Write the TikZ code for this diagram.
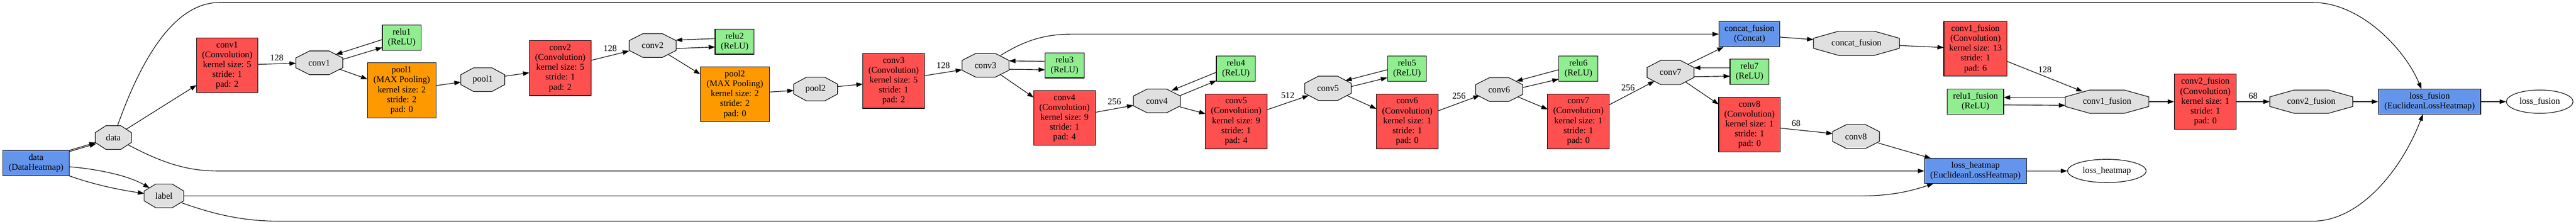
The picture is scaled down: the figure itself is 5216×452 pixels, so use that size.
\documentclass[tikz,border=0pt]{standalone}
\usepackage{fontspec}
\setmainfont{Liberation Serif}
\usetikzlibrary{arrows.meta,calc,shapes.geometric}
\definecolor{convred}{HTML}{FF5050}
\definecolor{poolorange}{HTML}{FF9900}
\definecolor{relugreen}{HTML}{90EE90}
\definecolor{layerblue}{HTML}{6495ED}
\definecolor{blobgray}{HTML}{E0E0E0}
\newcommand{\gvfont}{\fontsize{18pt}{20pt}\selectfont}
\tikzset{
  lay/.style={draw=black, line width=1.2pt, align=center, inner sep=0pt, font=\gvfont},
  convbox/.style={lay, fill=convred, minimum width=125pt, minimum height=111pt},
  poolbox/.style={lay, fill=poolorange, minimum width=140pt, minimum height=111pt},
  relubox/.style={lay, fill=relugreen, minimum width=79pt, minimum height=51pt},
  bluebox/.style={lay, fill=layerblue, minimum height=51pt},
  blobtxt/.style={inner sep=0pt, font=\gvfont},
  blobshape/.style={draw=black, line width=1.2pt, fill=blobgray},
  outell/.style={ellipse, draw=black, line width=1.2pt, fill=white, inner sep=0pt, font=\gvfont},
  edge/.style={draw=black, line width=1.2pt, -{Triangle[length=13pt 0,width=9pt 0]}},
  elabel/.style={font=\gvfont, inner sep=0pt},
}
% name, x, y, w, h, text
\newcommand{\blobnode}[6]{%
  \path[blobshape] (#2-#4/2,#3-0.207*#5) -- (#2-0.207*#4,#3-#5/2) -- (#2+0.207*#4,#3-#5/2) -- (#2+#4/2,#3-0.207*#5) -- (#2+#4/2,#3+0.207*#5) -- (#2+0.207*#4,#3+#5/2) -- (#2-0.207*#4,#3+#5/2) -- (#2-#4/2,#3+0.207*#5) -- cycle;
  \node[blobtxt, minimum width=#4pt, minimum height=#5pt] (#1) at (#2,#3) {#6};}
\begin{document}
\begin{tikzpicture}[x=1pt,y=-1pt]
\useasboundingbox (0,0) rectangle (5216,452);
% layers
\node[bluebox, minimum width=134pt] (dataL) at (73,329.5) {data\\(DataHeatmap)};
\node[convbox, minimum width=124pt, minimum height=110pt] (conv1) at (460,132) {conv1\\(Convolution)\\kernel size: 5\\stride: 1\\pad: 2};
\node[relubox] (relu1) at (813.5,76) {relu1\\(ReLU)};
\node[poolbox, minimum width=139pt] (pool1) at (813.5,182.5) {pool1\\(MAX Pooling)\\kernel size: 2\\stride: 2\\pad: 0};
\node[convbox] (conv2) at (1134.5,137.5) {conv2\\(Convolution)\\kernel size: 5\\stride: 1\\pad: 2};
\node[relubox] (relu2) at (1487.5,84) {relu2\\(ReLU)};
\node[poolbox] (pool2) at (1488,190.5) {pool2\\(MAX Pooling)\\kernel size: 2\\stride: 2\\pad: 0};
\node[convbox] (conv3) at (1809.5,163.5) {conv3\\(Convolution)\\kernel size: 5\\stride: 1\\pad: 2};
\node[relubox] (relu3) at (2155.5,132) {relu3\\(ReLU)};
\node[convbox] (conv4) at (2155.5,238.5) {conv4\\(Convolution)\\kernel size: 9\\stride: 1\\pad: 4};
\node[relubox] (relu4) at (2502.5,138.5) {relu4\\(ReLU)};
\node[convbox] (conv5) at (2503,245.5) {conv5\\(Convolution)\\kernel size: 9\\stride: 1\\pad: 4};
\node[relubox] (relu5) at (2849,138.5) {relu5\\(ReLU)};
\node[convbox] (conv6) at (2849.5,245.5) {conv6\\(Convolution)\\kernel size: 1\\stride: 1\\pad: 0};
\node[relubox] (relu6) at (3196,138.5) {relu6\\(ReLU)};
\node[convbox] (conv7) at (3196,245.5) {conv7\\(Convolution)\\kernel size: 1\\stride: 1\\pad: 0};
\node[bluebox, minimum width=123pt] (concatL) at (3542.5,69) {concat\_fusion\\(Concat)};
\node[relubox] (relu7) at (3542.5,145) {relu7\\(ReLU)};
\node[convbox] (conv8) at (3542.5,252) {conv8\\(Convolution)\\kernel size: 1\\stride: 1\\pad: 0};
\node[convbox, minimum width=128pt] (conv1f) at (4000,98.5) {conv1\_fusion\\(Convolution)\\kernel size: 13\\stride: 1\\pad: 6};
\node[relubox, minimum width=114pt] (relu1f) at (4000,205.5) {relu1\_fusion\\(ReLU)};
\node[convbox] (conv2f) at (4465.5,205.5) {conv2\_fusion\\(Convolution)\\kernel size: 1\\stride: 1\\pad: 0};
\node[bluebox, minimum width=206pt] (lossh) at (4000,345.5) {loss\_heatmap\\(EuclideanLossHeatmap)};
\node[bluebox, minimum width=207pt] (lossf) at (4919.5,205.5) {loss\_fusion\\(EuclideanLossHeatmap)};
% blobs
\blobnode{dataB}{229.5}{278}{73}{48}{data}
\blobnode{labelB}{332}{396}{80}{48}{label}
\blobnode{conv1B}{646.5}{127}{95}{48}{conv1}
\blobnode{pool1B}{977.5}{161}{89}{48}{pool1}
\blobnode{conv2B}{1321.5}{92}{95}{48}{conv2}
\blobnode{pool2B}{1651.5}{180}{89}{48}{pool2}
\blobnode{conv3B}{1995.5}{132}{95}{48}{conv3}
\blobnode{conv4B}{2342.5}{204}{95}{48}{conv4}
\blobnode{conv5B}{2689}{178.5}{94}{49}{conv5}
\blobnode{conv6B}{3035.5}{181}{95}{48}{conv6}
\blobnode{conv7B}{3382.5}{146.5}{95}{49}{conv7}
\blobnode{concatB}{3759}{87.5}{174}{49}{concat\_fusion}
\blobnode{conv8B}{3758}{276}{95}{48}{conv8}
\blobnode{conv1fB}{4266.5}{205.5}{169}{47}{conv1\_fusion}
\blobnode{conv2fB}{4680}{205.5}{168}{47}{conv2\_fusion}
% outputs
\node[outell, minimum width=159pt, minimum height=47pt] (losshE) at (4266,345.5) {loss\_heatmap};
\node[outell, minimum width=135pt, minimum height=47pt] (lossfE) at (5142.5,205.5) {loss\_fusion};
% edges from data layer
\draw[edge] ($(dataL.center)+(67,-25.5)$) -- ($(dataB.center)+(-35.5,10)$);
\draw[edge] ($(dataL.center)+(67,-23)$) -- ($(dataB.center)+(-35,12.5)$);
\draw[edge] ($(dataL.center)+(67,7.5)$) .. controls +(60,5) and +(-43,-25) .. ($(labelB.center)+(-29,-16)$);
\draw[edge] ($(dataL.center)+(66,25.5)$) .. controls +(42,15) and +(-62,-9) .. ($(labelB.center)+(-40,-5)$);
\draw[edge] ($(dataB.center)+(26.5,-17)$) -- ($(conv1.center)+(-62,40)$);
\draw[edge] ($(dataB.center)+(8.5,-24)$) .. controls +(62,-174) and +(-75,0) .. (445,5) -- (4683,5) .. controls +(97,0) and +(-33,-80) .. ($(lossf.center)+(-16.5,-25.5)$);
\draw[edge] ($(dataB.center)+(30.5,15)$) .. controls +(70,37) and +(-60,0) .. (440,345.5) -- (lossh.west);
\draw[edge] (labelB.east) -- (3767,396) .. controls +(63,0) and +(-45,15) .. ($(lossh.center)+(-85,25.5)$);
\draw[edge] ($(labelB.center)+(36,14)$) .. controls +(62,22) and +(-73,0) .. (563,447) -- (4683,447) .. controls +(92,0) and +(-46,119) .. ($(lossf.center)+(-13.5,25.5)$);
% conv chain
\draw[edge] ($(conv1.center)+(62,-2)$) -- node[elabel, above=6pt] {128} ($(conv1B.center)+(-47.5,1)$);
\draw[edge] ($(relu1.center)+(-39.5,4)$) -- ($(conv1B.center)+(33.5,-17)$);
\draw[edge] ($(conv1B.center)+(47.5,-7)$) -- ($(relu1.center)+(-39.5,20)$);
\draw[edge] ($(conv1B.center)+(41.5,13)$) -- ($(pool1.center)+(-69.5,-22.5)$);
\draw[edge] ($(pool1.center)+(69.5,-9.5)$) -- ($(pool1B.center)+(-44.5,5)$);
\draw[edge] ($(pool1B.center)+(44.5,-7)$) -- ($(conv2.center)+(-62.5,9.5)$);
\draw[edge] ($(conv2.center)+(62.5,-15.5)$) -- node[elabel, above=8pt] {128} ($(conv2B.center)+(-47.5,11)$);
\draw[edge] ($(relu2.center)+(-39.5,-6)$) -- ($(conv2B.center)+(47,-11)$);
\draw[edge] ($(conv2B.center)+(47.5,6)$) -- ($(relu2.center)+(-39.5,11)$);
\draw[edge] ($(conv2B.center)+(31.5,18)$) -- ($(pool2.center)+(-70,-40.5)$);
\draw[edge] ($(pool2.center)+(70,-4.5)$) -- ($(pool2B.center)+(-44.5,3)$);
\draw[edge] ($(pool2B.center)+(44.5,-5)$) -- ($(conv3.center)+(-62.5,6.5)$);
\draw[edge] ($(conv3.center)+(62.5,-10.5)$) -- node[elabel, above=8pt] {128} ($(conv3B.center)+(-47.5,9)$);
\draw[edge] ($(relu3.center)+(-39.5,-8)$) -- ($(conv3B.center)+(47.5,-9)$);
\draw[edge] ($(conv3B.center)+(47.5,8)$) -- ($(relu3.center)+(-39.5,9)$);
\draw[edge] ($(conv3B.center)+(30.5,19)$) -- ($(conv4.center)+(-62.5,-41.5)$);
\draw[edge] ($(conv3B.center)+(30.5,-20)$) .. controls +(44,-27) and +(-60,0) .. (2170,69) -- (concatL.west);
\draw[edge] ($(conv4.center)+(62.5,-11.5)$) -- node[elabel, above=8pt] {256} ($(conv4B.center)+(-47.5,9)$);
\draw[edge] ($(relu4.center)+(-39.5,7.5)$) -- ($(conv4B.center)+(29.5,-21)$);
\draw[edge] ($(conv4B.center)+(47.5,-11)$) -- ($(relu4.center)+(-39.5,24.5)$);
\draw[edge] ($(conv4B.center)+(46.5,12)$) -- ($(conv5.center)+(-62,-15.5)$);
\draw[edge] ($(conv5.center)+(62,-23.5)$) -- node[elabel, above=8pt] {512} ($(conv5B.center)+(-39,14.5)$);
\draw[edge] ($(relu5.center)+(-40,2.5)$) -- ($(conv5B.center)+(35,-15.5)$);
\draw[edge] ($(conv5B.center)+(47,-3.5)$) -- ($(relu5.center)+(-40,18.5)$);
\draw[edge] ($(conv5B.center)+(38,14.5)$) -- ($(conv6.center)+(-62.5,-25.5)$);
\draw[edge] ($(conv6.center)+(62.5,-21.5)$) -- node[elabel, above=8pt] {256} ($(conv6B.center)+(-39.5,12)$);
\draw[edge] ($(relu6.center)+(-40,2.5)$) -- ($(conv6B.center)+(34.5,-17)$);
\draw[edge] ($(conv6B.center)+(47.5,-4)$) -- ($(relu6.center)+(-40,21.5)$);
\draw[edge] ($(conv6B.center)+(38.5,15)$) -- ($(conv7.center)+(-62,-24.5)$);
\draw[edge] ($(conv7.center)+(62,-33.5)$) -- node[elabel, pos=0.42, above=8pt] {256} ($(conv7B.center)+(-32.5,17.5)$);
\draw[edge] ($(conv7B.center)+(35.5,-16.5)$) -- ($(concatL.center)+(-52.5,26)$);
\draw[edge] ($(relu7.center)+(-39.5,-8)$) -- ($(conv7B.center)+(47.5,-9.5)$);
\draw[edge] ($(conv7B.center)+(47.5,8.5)$) -- ($(relu7.center)+(-39.5,9)$);
\draw[edge] ($(conv7B.center)+(29.5,18.5)$) -- ($(conv8.center)+(-62.5,-41)$);
\draw[edge] ($(concatL.center)+(61.5,6)$) -- ($(concatB.center)+(-87,-7.5)$);
\draw[edge] ($(concatB.center)+(87,4.5)$) -- ($(conv1f.center)+(-64,-2.5)$);
\draw[edge] ($(conv8.center)+(62.5,7)$) -- node[elabel, pos=0.3, above=6pt] {68} ($(conv8B.center)+(-47,-6)$);
\draw[edge] ($(conv8B.center)+(45,13)$) -- ($(lossh.center)+(-90,-25.5)$);
\draw[edge] ($(conv1f.center)+(64,25.5)$) -- node[elabel, above=7pt] {128} ($(conv1fB.center)+(-49.5,-20.5)$);
\draw[edge] ($(conv1fB.center)+(-84.5,-8.5)$) -- ($(relu1f.center)+(57,-8.5)$);
\draw[edge] ($(relu1f.center)+(57,6.5)$) -- ($(conv1fB.center)+(-84.5,7.5)$);
\draw[edge] (conv1fB.east) -- (conv2f.west);
\draw[edge] (conv2f.east) -- node[elabel, above=5pt] {68} (conv2fB.west);
\draw[edge] (conv2fB.east) -- (lossf.west);
\draw[edge] (lossh.east) -- (losshE.west);
\draw[edge] (lossf.east) -- (lossfE.west);
\end{tikzpicture}
\end{document}
